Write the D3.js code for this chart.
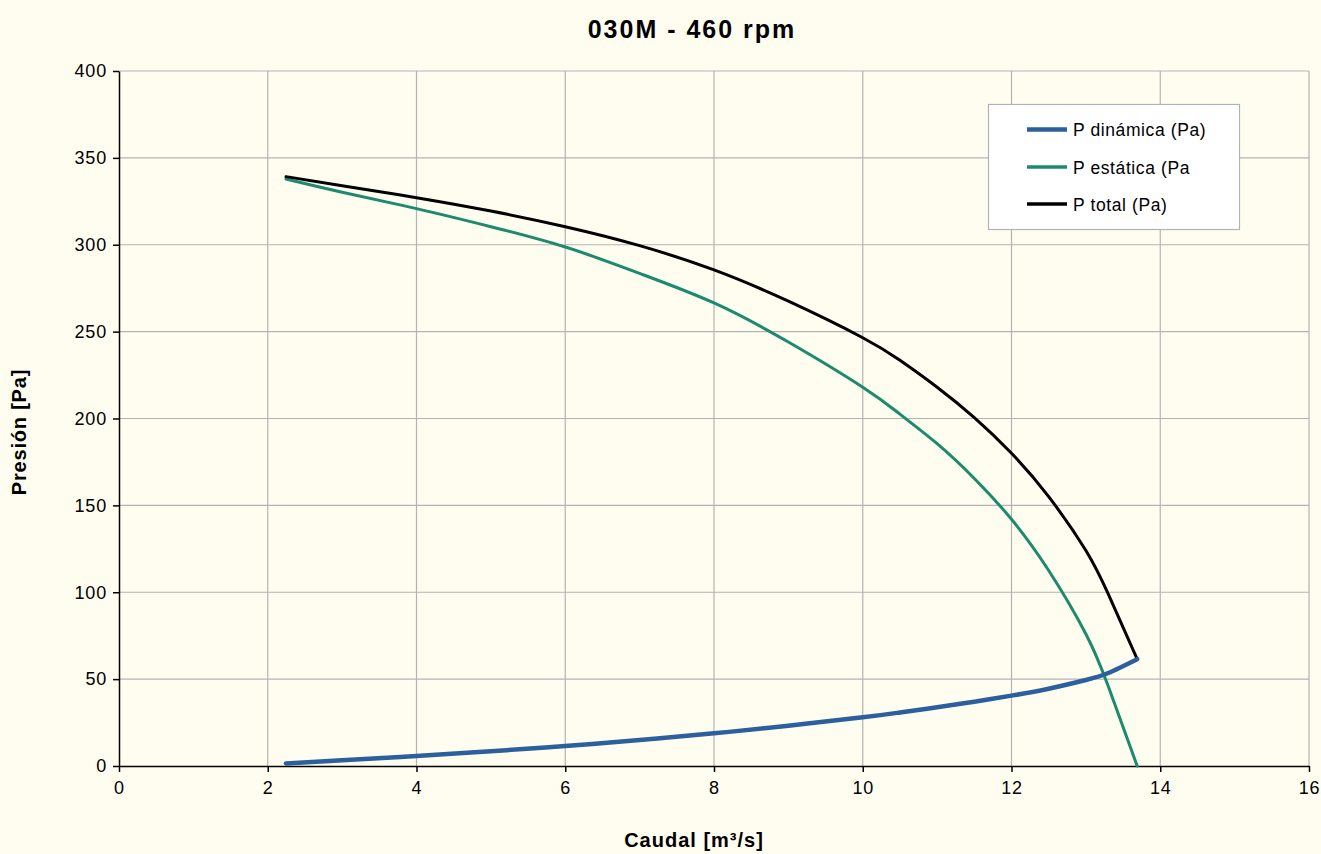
<!DOCTYPE html>
<html>
<head>
<meta charset="utf-8">
<script src="https://cdn.jsdelivr.net/npm/d3@7"></script>
<style>
  html, body { margin: 0; padding: 0; background: #fffdf0; }
  svg { display: block; font-family: "Liberation Sans", Arial, sans-serif; }
</style>
</head>
<body>
<svg id="chart" width="1321" height="854"></svg>
<script>
// ---- data ----
const caudal = [2.245, 3, 4, 5, 6, 7, 8, 9, 10, 10.5, 11, 11.5, 12, 12.5, 13, 13.3, 13.69];
const pDinamica = [1.5, 3.3, 5.8, 8.5, 11.5, 15, 18.8, 23.2, 28, 30.8, 33.8, 37, 40.5, 44.5, 49.5, 53.5, 61.5];
const pEstatica = [337.8, 330.2, 320.8, 310.4, 298.7, 283.5, 266.5, 244, 218, 202.5, 185.5, 165.5, 142, 112.5, 76, 46, 0];
const pTotal = [339.2, 334, 327.1, 319.4, 310.4, 299.5, 285.5, 267.5, 246.5, 233.5, 218, 200.5, 180, 155, 124, 99, 61.5];
const xTicks = [0, 2, 4, 6, 8, 10, 12, 14, 16];
const yTicks = [0, 50, 100, 150, 200, 250, 300, 350, 400];
const seriesNames = ["P dinámica (Pa)", "P estática (Pa", "P total (Pa)"];
const titleText = "030M - 460 rpm";
const xLabel = "Caudal [m³/s]";
const yLabel = "Presión [Pa]";

// ---- layout ----
const svg = d3.select("#chart");
const pL = 119, pR = 1309, pT = 71, pB = 766;
const x = d3.scaleLinear().domain([0, 16]).range([pL, pR]);
const y = d3.scaleLinear().domain([0, 400]).range([pB, pT]);

svg.append("rect").attr("width", 1321).attr("height", 854).attr("fill", "#fffdf0");

// gridlines
const grid = svg.append("g").attr("stroke", "#b3b3b3").attr("stroke-width", 1.2);
grid.selectAll("line.v").data(xTicks.filter(d => d > 0)).join("line").attr("class", "v")
  .attr("x1", d => x(d)).attr("x2", d => x(d)).attr("y1", pT).attr("y2", pB);
grid.selectAll("line.h").data(yTicks.filter(d => d > 0)).join("line").attr("class", "h")
  .attr("x1", pL).attr("x2", pR).attr("y1", d => y(d)).attr("y2", d => y(d));

// axes
const xAxis = svg.append("g").attr("transform", `translate(0,${pB})`)
  .call(d3.axisBottom(x).tickValues(xTicks).tickSize(6).tickSizeOuter(0).tickPadding(6));
const yAxis = svg.append("g").attr("transform", `translate(${pL},0)`)
  .call(d3.axisLeft(y).tickValues(yTicks).tickSize(6).tickSizeOuter(0).tickPadding(6));
[xAxis, yAxis].forEach(a => {
  a.select(".domain").attr("stroke", "#000").attr("stroke-width", 1.5);
  a.selectAll(".tick line").attr("stroke", "#000").attr("stroke-width", 1.5);
  a.selectAll("text").attr("font-family", "Liberation Sans, Arial, sans-serif")
    .attr("font-size", 18).attr("fill", "#000").attr("letter-spacing", "0.8px");
});
xAxis.selectAll("text").attr("dy", "0.9em");

// lines
const colors = ["#2c5f9e", "#1c8a6c", "#000000"];
const widths = [4.5, 3, 3];
const series = [pDinamica, pEstatica, pTotal];
const line = d3.line().x(d => x(d[0])).y(d => y(d[1])).curve(d3.curveNatural);
// draw order: green, black, blue
[1, 2, 0].forEach(i => {
  svg.append("path")
    .datum(caudal.map((c, k) => [c, series[i][k]]))
    .attr("fill", "none")
    .attr("stroke", colors[i])
    .attr("stroke-width", widths[i])
    .attr("stroke-linejoin", "round")
    .attr("stroke-linecap", "round")
    .attr("d", line);
});

// title and labels
svg.append("text").attr("x", 692).attr("y", 38).attr("text-anchor", "middle")
  .attr("font-size", 25).attr("font-weight", "bold").attr("letter-spacing", "2px")
  .text(titleText);
svg.append("text").attr("x", 694).attr("y", 847).attr("text-anchor", "middle")
  .attr("font-size", 20).attr("font-weight", "bold").attr("letter-spacing", "1px")
  .text(xLabel);
svg.append("text").attr("transform", "translate(26,432) rotate(-90)").attr("text-anchor", "middle")
  .attr("font-size", 20).attr("font-weight", "bold").attr("letter-spacing", "0.8px")
  .text(yLabel);

// legend
const lg = svg.append("g");
lg.append("rect").attr("x", 988.5).attr("y", 104.5).attr("width", 251).attr("height", 125)
  .attr("fill", "#ffffff").attr("stroke", "#b3b3b3").attr("stroke-width", 1.2);
const legendY = [129.5, 167, 204];
seriesNames.forEach((name, i) => {
  lg.append("line").attr("x1", 1027).attr("x2", 1067).attr("y1", legendY[i]).attr("y2", legendY[i])
    .attr("stroke", colors[i]).attr("stroke-width", i === 0 ? 4.5 : 3.5);
  lg.append("text").attr("x", 1073).attr("y", legendY[i] + 6.5).attr("font-size", 17.5)
    .attr("letter-spacing", "0.6px").text(name);
});
</script>
</body>
</html>
